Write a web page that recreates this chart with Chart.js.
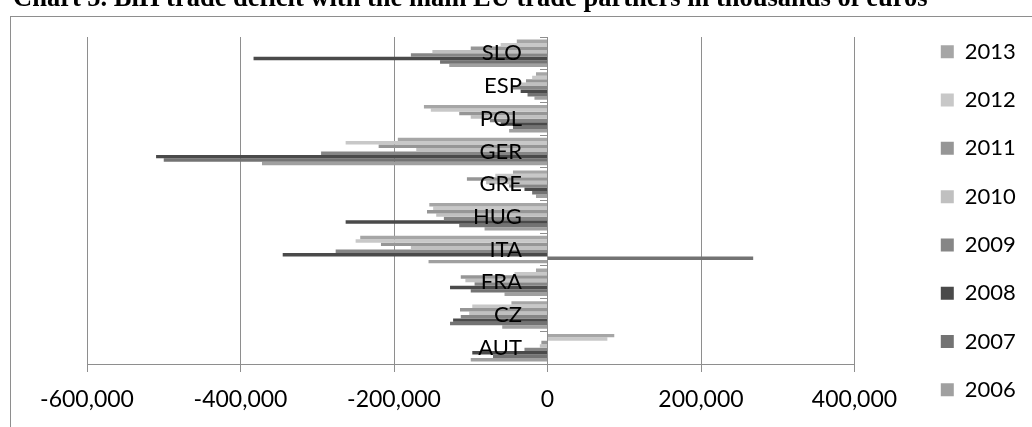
<!DOCTYPE html>
<html>
<head>
<meta charset="utf-8">
<script src="https://cdn.jsdelivr.net/npm/chart.js@4.4.1/dist/chart.umd.min.js"></script>
<style>
  html, body { margin: 0; padding: 0; background: #fff; overflow: hidden; }
  #frame { position: absolute; left: 10px; top: 16px; width: 1100px; height: 500px; border: 1px solid #8e8e8e; }
  #chart { position: absolute; left: 0; top: 0; }
</style>
</head>
<body>
<div id="frame"></div>
<canvas id="chart" width="1032" height="427"></canvas>
<script>
// Категории снизу вверх (ось перевёрнута)
const countries = ['AUT', 'CZ', 'FRA', 'ITA', 'HUG', 'GRE', 'GER', 'POL', 'ESP', 'SLO'];

// Дефицит по годам, тыс. евро
const y2013 = [87000, -47000, -15000, -244000, -154000, -45000, -195000, -161000, -15000, -40000];
const y2012 = [78000, -98000, -43000, -250000, -149000, -68000, -263000, -152000, -20000, -61000];
const y2011 = [-8000, -114000, -113000, -217000, -157000, -105000, -220000, -115000, -28000, -100000];
const y2010 = [-10000, -102000, -107000, -178000, -145000, -80000, -171000, -100000, -38000, -150000];
const y2009 = [-30000, -113000, -95000, -276000, -135000, -50000, -295000, -75000, -45000, -178000];
const y2008 = [-98000, -123000, -127000, -345000, -263000, -30000, -510000, -61000, -35000, -383000];
const y2007 = [-71000, -127000, -100000, 268000, -115000, -20000, -500000, -45000, -26000, -140000];
const y2006 = [-100000, -59000, -56000, -155000, -82000, -15000, -372000, -50000, -17000, -128000];

const years = ['2013', '2012', '2011', '2010', '2009', '2008', '2007', '2006'];
const series = [y2013, y2012, y2011, y2010, y2009, y2008, y2007, y2006];
const colors = ['#a6a6a6', '#c8c8c8', '#969696', '#c0c0c0', '#868686', '#4a4a4a', '#737373', '#a0a0a0'];

const xTicks = [-600000, -400000, -200000, 0, 200000, 400000];

const gridColor = '#8e8e8e';
const labelFont = { family: 'Lato', size: 22 };

// легенда справа: фиксированная ширина и сдвиг
const legendTweak = {
    id: 'legendTweak',
    beforeInit(chart) {
        const fit = chart.legend.fit;
        chart.legend.fit = function () {
            fit.call(this);
            this.width = 177.5;
        };
    },
    afterLayout(chart) {
        const lg = chart.legend;
        lg.left += 60; lg.right += 60;
        lg.top += 7.3; lg.bottom += 7.3;
    }
};

const ctx = document.getElementById('chart').getContext('2d');
const chart = new Chart(ctx, {
    type: 'bar',
    data: {
        labels: countries,
        datasets: years.map((y, i) => ({
            label: y,
            data: series[i],
            backgroundColor: colors[i],
            borderWidth: 0,
            barPercentage: 1.0,
            categoryPercentage: 0.842
        }))
    },
    plugins: [legendTweak],
    options: {
        indexAxis: 'y',
        responsive: false,
        animation: false,
        layout: { padding: { left: 13, right: 0, top: 0, bottom: 0 } },
        plugins: {
            title: {
                display: true,
                text: 'Chart 5. BiH trade deficit with the main EU trade partners in thousands of euros',
                align: 'start',
                color: '#000',
                font: { family: 'Liberation Serif', size: 26.5, weight: 'bold', lineHeight: 1.2 },
                padding: { top: -17, bottom: 22.2 }
            },
            legend: {
                position: 'right',
                labels: {
                    color: '#000',
                    font: labelFont,
                    boxWidth: 13,
                    boxHeight: 13,
                    padding: 26.3
                }
            },
            tooltip: { enabled: false }
        },
        scales: {
            x: {
                type: 'linear',
                min: xTicks[0],
                max: xTicks[xTicks.length - 1],
                afterBuildTicks(scale) {
                    scale.ticks = xTicks.map(v => ({ value: v }));
                },
                afterFit(scale) { scale.height = 63; },
                grid: { color: gridColor, lineWidth: 1, drawTicks: true, tickLength: 8 },
                border: { display: true, color: gridColor },
                ticks: {
                    color: '#000',
                    font: { family: 'Lato', size: 23 },
                    padding: 14,
                    maxRotation: 0,
                    callback: v => Number(v).toLocaleString('en-US')
                }
            },
            // ось категорий на нуле: линия и засечки
            y: {
                type: 'category',
                position: { x: 0 },
                reverse: true,
                offset: true,
                grid: { display: true, drawOnChartArea: false, drawTicks: true, tickLength: 7, color: gridColor, offset: true, z: 1 },
                border: { display: true, color: gridColor, z: 1 },
                ticks: { display: false }
            },
            // подписи стран чуть левее нуля, поверх столбиков
            yLabels: {
                type: 'category',
                axis: 'y',
                position: { x: -33300 },
                reverse: true,
                offset: true,
                grid: { display: false },
                border: { display: false },
                ticks: { color: '#000', font: labelFont, autoSkip: false, z: 2 }
            },
            pad: {
                type: 'linear',
                axis: 'y',
                position: 'left',
                display: true,
                afterFit(scale) { scale.width = 74; },
                grid: { display: false },
                border: { display: false },
                ticks: { display: false }
            }
        }
    }
});
</script>
</body>
</html>
